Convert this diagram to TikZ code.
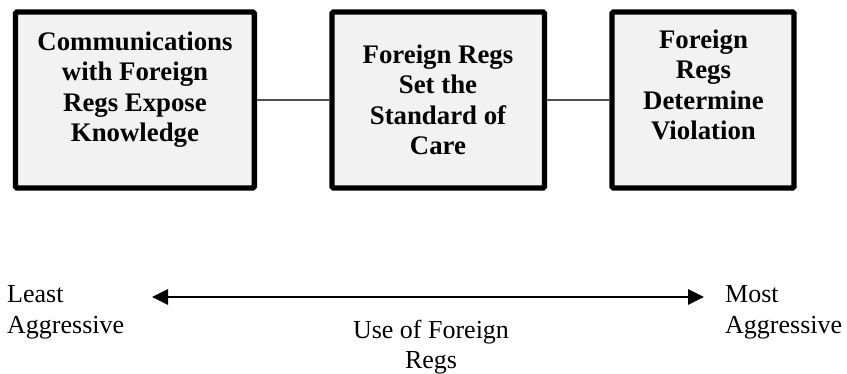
\documentclass[tikz,border=0pt]{standalone}
\usepackage{fontspec}
\setmainfont{Liberation Serif}
\usetikzlibrary{arrows.meta}
\definecolor{boxfill}{HTML}{F2F2F2}
\definecolor{linkgray}{HTML}{505050}
\tikzset{
  box/.style={draw=black, line width=5.4pt, fill=boxfill, rounded corners=1.5pt, minimum height=176pt, inner sep=0pt},
  boxtext/.style={anchor=north, align=center, inner sep=0pt, font=\fontsize{26.8}{30.5}\selectfont\bfseries},
  plain/.style={inner sep=0pt, font=\fontsize{26}{31}\selectfont},
  link/.style={draw=linkgray, line width=1.8pt},
  scalearrow/.style={line width=2.8pt, {Triangle[length=16pt,width=15pt]}-{Triangle[length=16pt,width=15pt]}}
}
\begin{document}
\begin{tikzpicture}[x=1pt,y=-1pt]
\useasboundingbox (0,0) rectangle (847,374);
\node[box, minimum width=238.8pt] (b1) at (134.9,100) {};
\node[box, minimum width=212.5pt] (b2) at (438.25,100) {};
\node[box, minimum width=182pt] (b3) at (703,100) {};
\draw[link] (b1.east) -- (b2.west);
\draw[link] (b2.east) -- (b3.west);
\node[boxtext] (t1) at (135,31.5) {Communications\\with Foreign\\Regs Expose\\Knowledge};
\node[boxtext] (t2) at (438,44.5) {Foreign Regs\\Set the\\Standard of\\Care};
\node[boxtext] (t3) at (703.5,29.5) {Foreign\\Regs\\Determine\\Violation};
\coordinate (left) at (152,297);
\coordinate (right) at (704,297);
\draw[scalearrow] (left) -- (right);
\node[plain, anchor=north west, align=left] (least) at (7,285) {Least\\Aggressive};
\node[plain, anchor=north west, align=left] (most) at (725,285) {Most\\Aggressive};
\node[plain, anchor=north, align=center, font=\fontsize{26}{30}\selectfont] (use) at (431,320) {Use of Foreign\\Regs};
\end{tikzpicture}
\end{document}
